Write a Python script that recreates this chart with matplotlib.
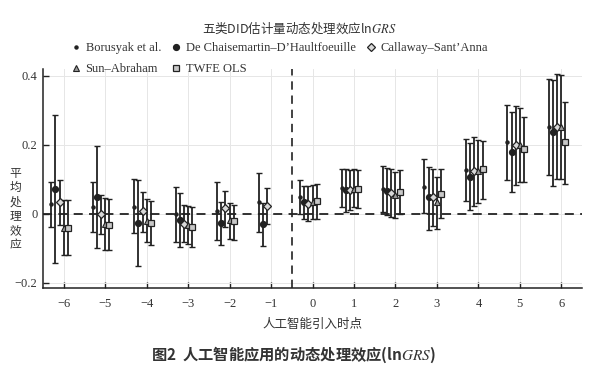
import numpy as np
import matplotlib
matplotlib.use('Agg')
import matplotlib.pyplot as plt

plt.rcParams['mathtext.fontset'] = 'stix'

periods = [-6, -5, -4, -3, -2, -1, 0, 1, 2, 3, 4, 5, 6]
nan = np.nan

bor_est = [0.028, 0.019, 0.021, -0.001, 0.007, 0.033, 0.049, 0.074, 0.071, 0.079, 0.128, 0.207, 0.253]
bor_lo = [-0.037, -0.052, -0.056, -0.083, -0.077, -0.054, 0.001, 0.020, 0.004, 0.002, 0.036, 0.099, 0.113]
bor_hi = [0.093, 0.092, 0.100, 0.079, 0.093, 0.118, 0.098, 0.131, 0.139, 0.158, 0.216, 0.316, 0.390]

dcdh_est = [0.071, 0.049, -0.027, -0.017, -0.026, -0.029, 0.033, 0.069, 0.065, 0.048, 0.108, 0.179, 0.236]
dcdh_lo = [-0.143, -0.100, -0.151, -0.095, -0.089, -0.092, -0.016, 0.006, -0.003, -0.046, 0.012, 0.063, 0.081]
dcdh_hi = [0.287, 0.198, 0.099, 0.060, 0.035, 0.032, 0.080, 0.131, 0.132, 0.137, 0.205, 0.294, 0.388]

csa_est = [0.034, -0.001, 0.007, -0.029, 0.017, 0.022, 0.030, 0.069, 0.060, 0.048, 0.125, 0.199, 0.253]
csa_lo = [-0.031, -0.059, -0.054, -0.083, -0.037, -0.030, -0.021, 0.011, -0.010, -0.034, 0.024, 0.084, 0.100]
csa_hi = [0.099, 0.056, 0.064, 0.026, 0.067, 0.074, 0.081, 0.126, 0.130, 0.130, 0.224, 0.313, 0.406]

sa_est = [-0.040, -0.029, -0.020, -0.032, -0.018, nan, 0.035, 0.073, 0.055, 0.033, 0.125, 0.199, 0.251]
sa_lo = [-0.120, -0.104, -0.082, -0.088, -0.072, nan, -0.015, 0.019, -0.013, -0.044, 0.031, 0.091, 0.100]
sa_hi = [0.041, 0.047, 0.043, 0.024, 0.032, nan, 0.085, 0.129, 0.120, 0.108, 0.214, 0.306, 0.403]

twfe_est = [-0.042, -0.032, -0.027, -0.038, -0.022, nan, 0.037, 0.073, 0.062, 0.058, 0.129, 0.188, 0.207]
twfe_lo = [-0.120, -0.106, -0.091, -0.096, -0.076, nan, -0.015, 0.018, -0.001, -0.013, 0.043, 0.091, 0.087]
twfe_hi = [0.039, 0.043, 0.036, 0.020, 0.027, nan, 0.086, 0.128, 0.128, 0.129, 0.212, 0.282, 0.323]

series_names = ['Borusyak et al.', 'De Chaisemartin\u2013D\u2019Haultfoeuille',
                'Callaway\u2013Sant\u2019Anna', 'Sun\u2013Abraham', 'TWFE OLS']
y_ticks = [-0.2, 0, 0.2, 0.4]
y_tick_labels = ['\u22120.2', '0', '0.2', '0.4']
x_tick_labels = [('\u2212%d' % -p) if p < 0 else str(p) for p in periods]

title = '五类DID估计量动态处理效应ln$\\mathit{GRS}$'
xlabel = '人工智能引入时点'
ylabel = '平\n均\n处\n理\n效\n应'
caption = '图2  人工智能应用的动态处理效应(ln$\\mathit{GRS}$)'

CJK = ['Noto Sans CJK SC', 'DejaVu Sans']
SERIF = ['Liberation Serif', 'DejaVu Serif']
ink = '#222222'

fig = plt.figure(figsize=(6.14, 3.75), dpi=100)
ax = fig.add_axes([0.070, 0.232, 0.878, 0.584])

styles = [
    dict(marker='o', ms=2.2, mfc=ink, mec=ink),
    dict(marker='o', ms=4.2, mfc=ink, mec=ink),
    dict(marker='D', ms=4.0, mfc='#d8d8d8', mec=ink, mew=0.9),
    dict(marker='^', ms=4.0, mfc='#9a9a9a', mec=ink, mew=0.8),
    dict(marker='s', ms=4.0, mfc='#c8c8c8', mec=ink, mew=0.9),
]
offsets = [-0.3, -0.2, -0.1, 0.0, 0.1]
data = [(bor_est, bor_lo, bor_hi), (dcdh_est, dcdh_lo, dcdh_hi),
        (csa_est, csa_lo, csa_hi), (sa_est, sa_lo, sa_hi),
        (twfe_est, twfe_lo, twfe_hi)]

handles = []
for (est, lo, hi), off, st, name in zip(data, offsets, styles, series_names):
    est = np.array(est); lo = np.array(lo); hi = np.array(hi)
    x = np.array(periods) + off
    ax.errorbar(x, est, yerr=[est - lo, hi - est], fmt='none', ecolor=ink,
                elinewidth=1.3, capsize=2.3, capthick=1.0, zorder=3)
    p, = ax.plot(x, est, linestyle='none', zorder=4, label=name, **st)
    handles.append(p)

ax.axhline(0, color=ink, lw=1.3, ls=(0, (5, 3.5)), zorder=2)
ax.axvline(-0.5, color=ink, lw=1.2, ls=(0, (5, 3.5)), zorder=2)

ax.set_xlim(-6.5, 6.5)
ax.set_ylim(-0.215, 0.42)
ax.set_xticks(periods)
ax.set_xticklabels(x_tick_labels, fontfamily=SERIF, fontsize=9, color='#333333')
ax.set_yticks(y_ticks)
ax.set_yticklabels(y_tick_labels, fontfamily=SERIF, fontsize=9, color='#333333')
ax.tick_params(direction='in', length=4, width=1, color=ink)
ax.tick_params(axis='x', pad=7)
ax.tick_params(axis='y', pad=4)
ax.grid(True, color='#e6e6e6', lw=0.7, zorder=0)
for s in ['top', 'right']:
    ax.spines[s].set_visible(False)
for s in ['left', 'bottom']:
    ax.spines[s].set_color(ink)
    ax.spines[s].set_linewidth(1.1)

ax.set_xlabel(xlabel, fontfamily=CJK, fontsize=9, color='#333333', labelpad=6)
fig.text(0.025, 0.443, ylabel, fontfamily=CJK, fontsize=8.5, color='#333333',
         ha='center', va='center', linespacing=1.12)

fig.text(0.487, 0.925, title, fontfamily=CJK, fontsize=9, color='#333333',
         ha='center', va='center')

order = [0, 3, 1, 4, 2]
leg = fig.legend([handles[i] for i in order], [series_names[i] for i in order],
                 ncol=3, loc='upper left', bbox_to_anchor=(0.115, 0.888),
                 frameon=False, prop={'family': SERIF, 'size': 9},
                 handlelength=0.8, handletextpad=0.4, columnspacing=0.8,
                 labelspacing=0.75, borderaxespad=0, borderpad=0)
for t in leg.get_texts():
    t.set_color('#333333')

fig.text(0.478, 0.053, caption, fontfamily=CJK, fontsize=11, color='#333333',
         ha='center', va='center', fontweight='bold')

fig.savefig('out.png', dpi=100)
